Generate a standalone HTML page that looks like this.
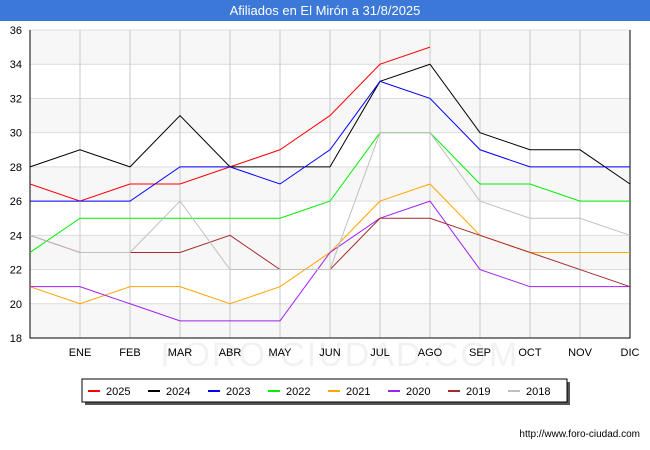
<!DOCTYPE html>
<html><head><meta charset="utf-8"><style>
body{margin:0;background:#fff;font-family:"Liberation Sans",sans-serif}
#wrap{position:relative;width:650px;height:450px;overflow:hidden}
#title{position:absolute;left:0;top:0;width:650px;height:21px;background:#3b78d8;color:#fff;font-size:13px;line-height:21px;text-align:center}
</style></head><body>
<div id="wrap">
<div id="title">Afiliados en El Mirón a 31/8/2025</div>
<svg id="svg" width="650" height="450" style="position:absolute;left:0;top:0"></svg>
</div>
<script>
const months=["","ENE","FEB","MAR","ABR","MAY","JUN","JUL","AGO","SEP","OCT","NOV","DIC"];
const yTicks=[18,20,22,24,26,28,30,32,34,36];
const seriesNames=["2018","2019","2020","2021","2022","2023","2024","2025"];
const seriesColors=["#c0c0c0","#a52a2a","#a020f0","#ffa500","#00ee00","#0000ff","#000000","#ff0000"];
const s2018=[24,23,23,26,22,22,22,30,30,26,25,25,24];
const s2019=[24,23,23,23,24,22,22,25,25,24,23,22,21];
const s2020=[21,21,20,19,19,19,23,25,26,22,21,21,21];
const s2021=[21,20,21,21,20,21,23,26,27,24,23,23,23];
const s2022=[23,25,25,25,25,25,26,30,30,27,27,26,26];
const s2023=[26,26,26,28,28,27,29,33,32,29,28,28,28];
const s2024=[28,29,28,31,28,28,28,33,34,30,29,29,27];
const s2025=[27,26,27,27,28,29,31,34,35];
const allSeries=[s2018,s2019,s2020,s2021,s2022,s2023,s2024,s2025];
const X0=30,X1=630,Y0=30,Y1=338,ymin=18,ymax=36;
const xs=i=>X0+(X1-X0)*i/(months.length-1);
const ys=v=>Y1-(v-ymin)/(ymax-ymin)*(Y1-Y0);
const svg=document.getElementById('svg');const NS="http://www.w3.org/2000/svg";
function mk(t,a,p){const e=document.createElementNS(NS,t);for(const k in a)e.setAttribute(k,a[k]);(p||svg).appendChild(e);return e;}
const wm=mk('text',{x:340,y:366,'text-anchor':'middle','font-size':34,fill:'#f2f2f2','letter-spacing':'2'});wm.textContent="FORO-CIUDAD.COM";

for(let i=0;i<yTicks.length-1;i++){
 if((yTicks.length-2-i)%2===0){const r=mk('rect',{x:X0,y:ys(yTicks[i+1]),width:X1-X0,height:ys(yTicks[i])-ys(yTicks[i+1]),fill:'#f7f7f7'});
 }
}
yTicks.forEach(v=>{const l=mk('line',{x1:X0,x2:X1,y1:ys(v),y2:ys(v),stroke:'#dcdcdc'});

const t=mk('text',{x:X0-8,y:ys(v)+4,'text-anchor':'end','font-size':11,fill:'#000'});t.textContent=v;
});
months.forEach((m,i)=>{if(i>0&&i<months.length-1){const l=mk('line',{x1:xs(i),x2:xs(i),y1:Y0,y2:Y1,stroke:'#c8c8c8'});
}
if(m){const t=mk('text',{x:xs(i),y:356,'text-anchor':'middle','font-size':11,fill:'#000'});t.textContent=m;
}});
const ax=mk('path',{d:`M${X0},${Y0}V${Y1}H${X1}V${Y0}`,fill:'none',stroke:'#000'});

for(let k=allSeries.length-1;k>=0;k--){const s=allSeries[k];
const p=mk('polyline',{points:s.map((v,i)=>xs(i)+','+ys(v)).join(' '),fill:'none',stroke:seriesColors[k],'stroke-width':1});
}
const sh=mk('rect',{x:85,y:382,width:485,height:23,fill:'#555'});
const lb=mk('rect',{x:82,y:379,width:485,height:23,fill:'#fff',stroke:'#000'});
const lorder=[7,6,5,4,3,2,1,0];
lorder.forEach((k,j)=>{const x=88+j*60;
const l=mk('line',{x1:x,x2:x+12,y1:391,y2:391,stroke:seriesColors[k],'stroke-width':2});

const t=mk('text',{x:x+18,y:395,'font-size':11,fill:'#000'});t.textContent=seriesNames[k];
});
const u=mk('text',{x:640,y:437,'text-anchor':'end','font-size':10,fill:'#000'});u.textContent="http://www.foro-ciudad.com";

</script>
</body></html>
